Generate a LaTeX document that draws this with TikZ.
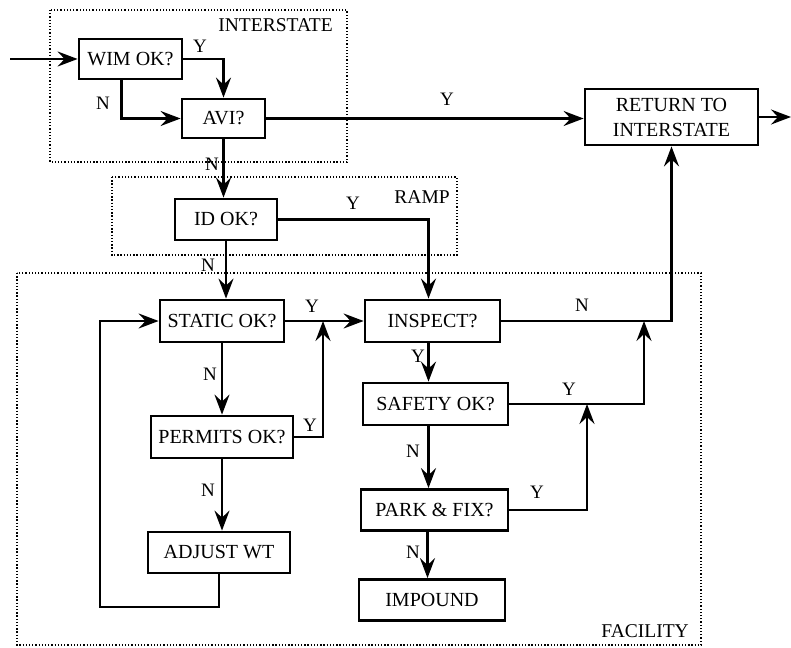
\documentclass[tikz,border=0pt]{standalone}
\usepackage{fontspec}
\setmainfont{Liberation Serif}
\usetikzlibrary{arrows.meta}
\begin{document}
\begin{tikzpicture}[x=1pt, y=-1pt, line width=2.5pt,
  box/.style={draw, line width=2.8pt, inner sep=0pt, align=center, font=\fontsize{20}{25}\selectfont},
  zone/.style={draw, line width=2pt, dash pattern=on 1.3pt off 1.9pt},
  flow/.style={-{Stealth[length=20pt, width=15pt, inset=7pt]}},
  yn/.style={font=\fontsize{19}{20}\selectfont, inner sep=0pt},
  zonelbl/.style={font=\fontsize{19.5}{20}\selectfont, anchor=east, inner sep=0pt}]
  \useasboundingbox (0,0) rectangle (791,647);
  % zones
  \draw[zone] (50,10) rectangle (347,162);
  \draw[zone] (112,177) rectangle (457,255);
  \draw[zone] (17,273) rectangle (701,645);
  \node[zonelbl] (intlbl) at (334,25) {INTERSTATE};
  \node[zonelbl] (ramplbl) at (451,197) {RAMP};
  \node[zonelbl] (faclbl) at (690,631) {FACILITY};
  % boxes
  \node[box, minimum width=103pt, minimum height=40pt] (wim) at (130.5,59) {WIM OK?};
  \node[box, minimum width=83pt, minimum height=39pt] (avi) at (223.5,118.5) {AVI?};
  \node[box, minimum width=173pt, minimum height=56pt] (ret) at (671.5,117) {RETURN TO\\INTERSTATE};
  \node[box, minimum width=102pt, minimum height=41pt] (idok) at (226,219.5) {ID OK?};
  \node[box, minimum width=124pt, minimum height=42pt] (static) at (222,321) {STATIC OK?};
  \node[box, minimum width=135pt, minimum height=42pt] (inspect) at (432.5,321) {INSPECT?};
  \node[box, minimum width=142pt, minimum height=42pt] (permits) at (222,437) {PERMITS OK?};
  \node[box, minimum width=142pt, minimum height=41pt] (adjust) at (219,552.5) {ADJUST WT};
  \node[box, minimum width=145pt, minimum height=42pt] (safety) at (435.5,404) {SAFETY OK?};
  \node[box, minimum width=147pt, minimum height=41pt] (park) at (434.5,510) {PARK \& FIX?};
  \node[box, minimum width=146pt, minimum height=41pt] (impound) at (432,600) {IMPOUND};
  % free ends and junctions
  \coordinate (entry) at (10,59);
  \coordinate (exit) at (791,117);
  \coordinate (loop) at (100,607);
  \coordinate (pj) at (323,321);
  \coordinate (sj) at (644,321);
  \coordinate (kj) at (587,404);
  % connectors
  \draw[flow] (entry) -- (wim.west);
  \draw[flow] (wim.east) -| (avi.north);
  \draw[flow] ([xshift=-9pt]wim.south) |- (avi.west);
  \draw[flow] (avi.east) -- (avi.east -| ret.west);
  \draw[flow] (ret.east) -- (exit);
  \draw[flow] (avi.south) -- (avi.south |- idok.north);
  \draw[flow] (idok.east) -| ([xshift=-4pt]inspect.north);
  \draw[flow] (idok.south) -- (idok.south |- static.north);
  \draw[flow] (static.east) -- (inspect.west);
  \draw[flow] (static.south) -- (static.south |- permits.north);
  \draw[flow] (permits.east) -| (pj);
  \draw[flow] (permits.south) -- (permits.south |- adjust.north);
  \draw[flow] (adjust.south) |- (loop) |- (static.west);
  \draw[flow] (inspect.east) -| (ret.south);
  \draw[flow] ([xshift=-4pt]inspect.south) -- ([xshift=-4pt]inspect.south |- safety.north);
  \draw[flow] (safety.east) -| (sj);
  \draw[flow] (park.east) -| (kj);
  \draw[flow] ([xshift=-7pt]safety.south) -- ([xshift=-7pt]safety.south |- park.north);
  \draw[flow] ([xshift=-7pt]park.south) -- ([xshift=-7pt]park.south |- impound.north);
  % Y / N labels
  \node[yn] (y1) at (200,46) {Y};
  \node[yn] (n1) at (103,103) {N};
  \node[yn] (y2) at (447,99) {Y};
  \node[yn] (n2) at (212,164) {N};
  \node[yn] (y3) at (353,203) {Y};
  \node[yn] (n3) at (208,265) {N};
  \node[yn] (y4) at (312,306) {Y};
  \node[yn] (n4) at (582,305) {N};
  \node[yn] (y5) at (418,356) {Y};
  \node[yn] (n5) at (210,374) {N};
  \node[yn] (y6) at (310,425) {Y};
  \node[yn] (n6) at (208,490) {N};
  \node[yn] (y7) at (569,389) {Y};
  \node[yn] (n7) at (413,451) {N};
  \node[yn] (y8) at (537,492) {Y};
  \node[yn] (n8) at (413,552) {N};
\end{tikzpicture}
\end{document}
